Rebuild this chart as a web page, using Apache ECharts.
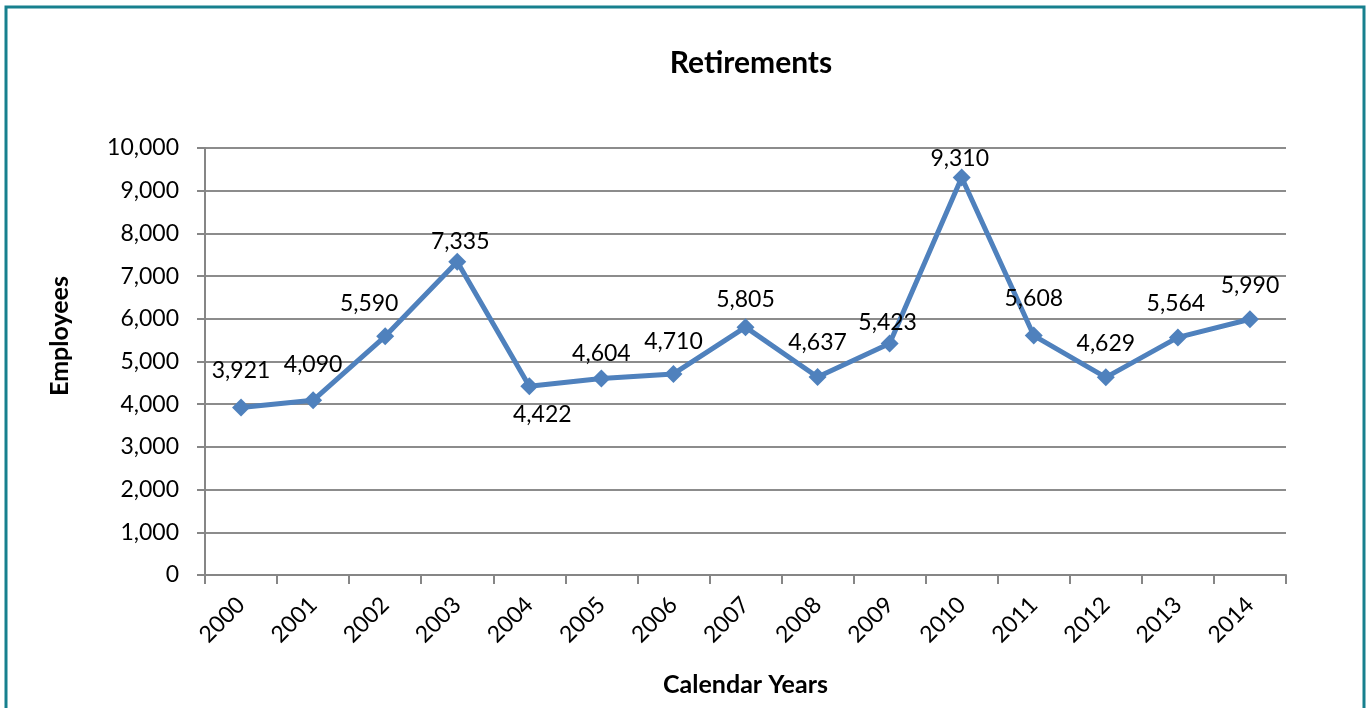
<!DOCTYPE html>
<html><head><meta charset="utf-8">
<script src="https://cdn.jsdelivr.net/npm/echarts@6/dist/echarts.min.js"></script>
<style>html,body{margin:0;padding:0;background:#fff}#c{width:1372px;height:708px}</style>
</head><body><div id="c"></div>
<script>
const years = ['2000','2001','2002','2003','2004','2005','2006','2007','2008','2009','2010','2011','2012','2013','2014'];
const retirements = [3921,4090,5590,7335,4422,4604,4710,5805,4637,5423,9310,5608,4629,5564,5990];
const yTicks = [0,1000,2000,3000,4000,5000,6000,7000,8000,9000,10000];
// label offsets [dx, dy] relative to default top placement (style only)
const labelOffsets = [[0,-9],[0,-8],[-16,-5],[3,7],[13,56],[0,3],[0,-5],[0,0],[0,-7],[-2,7],[-2,9],[0,-9],[0,-6],[-2,-6],[0,-6]];
const FONT = 'Lato, Carlito, "Open Sans", sans-serif';
const fmt = v => v.toLocaleString('en-US');

const chart = echarts.init(document.getElementById('c'), null, {renderer:'canvas'});
chart.setOption({
  animation:false,
  backgroundColor:'#fff',
  title:{text:'Retirements', left:746, textAlign:'center', top:43, textStyle:{fontFamily:FONT, fontWeight:'bold', fontSize:30, color:'#000'}},
  graphic:[
    {type:'rect', shape:{x:6, y:7, width:1358, height:740}, style:{fill:'none', stroke:'#17808e', lineWidth:3}, silent:true, z:100},
    {type:'text', x:60, y:336, rotation:Math.PI/2, style:{text:'Employees', fontFamily:FONT, fontWeight:'bold', fontSize:25, fill:'#000', align:'center', verticalAlign:'middle'}, silent:true}
  ],
  grid:{left:205, right:86, top:148, bottom:133, containLabel:false},
  xAxis:{
    type:'category', data:years, boundaryGap:true,
    name:'Calendar Years', nameLocation:'middle', nameGap:97,
    nameTextStyle:{fontFamily:FONT, fontWeight:'bold', fontSize:25, color:'#000'},
    axisLine:{lineStyle:{color:'#868686', width:2}},
    axisTick:{show:true, length:9, alignWithLabel:false, lineStyle:{color:'#868686', width:2}},
    axisLabel:{rotate:45, margin:26, fontFamily:FONT, fontSize:23, color:'#000'}
  },
  yAxis:{
    type:'value', min:yTicks[0], max:yTicks[yTicks.length-1], interval:yTicks[1]-yTicks[0],
    axisLine:{show:true, lineStyle:{color:'#868686', width:2}},
    axisTick:{show:true, inside:false, length:8, lineStyle:{color:'#868686', width:2}},
    axisLabel:{margin:26, fontFamily:FONT, fontSize:23, color:'#000', formatter:v=>fmt(v)},
    splitLine:{show:true, lineStyle:{color:'#8c8c8c', width:2}}
  },
  series:[{
    type:'line', data:retirements.map((v,i)=>({value:v, label:{offset:labelOffsets[i]}})),
    symbol:'diamond', symbolSize:18,
    lineStyle:{color:'#4f81bd', width:5},
    itemStyle:{color:'#4f81bd'},
    label:{show:true, position:'top', distance:7, fontFamily:FONT, fontSize:23, color:'#000', formatter:p=>fmt(p.value)}
  }]
});
</script></body></html>
